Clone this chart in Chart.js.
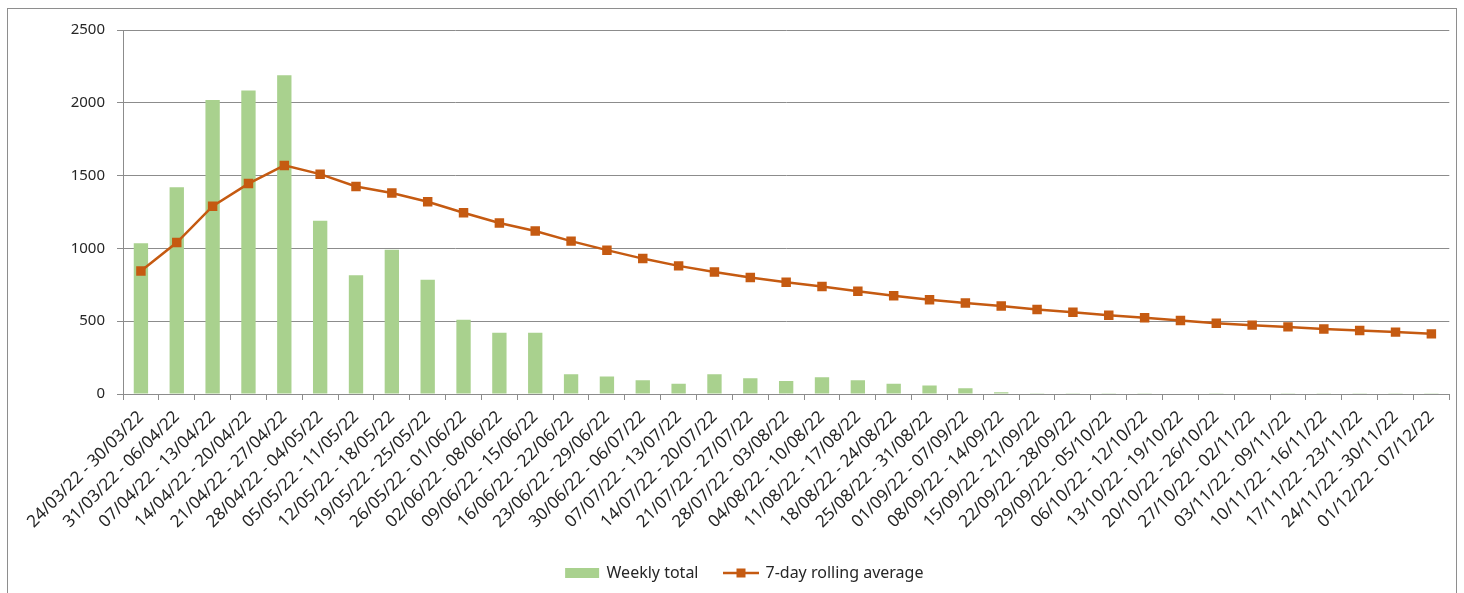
<!DOCTYPE html>
<html>
<head>
<meta charset="utf-8">
<script src="https://cdn.jsdelivr.net/npm/chart.js@4.4.1/dist/chart.umd.min.js"></script>
<style>
    html, body { margin: 0; padding: 0; background: #fff; overflow: hidden; }
    #frame { position: absolute; left: 7px; top: 8px; width: 1448px; height: 600px; border: 1px solid #8e8e8e; }
    #wrap { position: absolute; left: 0; top: 0; width: 1448px; height: 584px; }
</style>
</head>
<body>
<div id="frame"><div id="wrap"><canvas id="chart"></canvas></div></div>
<script>
// week ranges (x categories)
const weeks = [
    '24/03/22 - 30/03/22', '31/03/22 - 06/04/22', '07/04/22 - 13/04/22', '14/04/22 - 20/04/22',
    '21/04/22 - 27/04/22', '28/04/22 - 04/05/22', '05/05/22 - 11/05/22', '12/05/22 - 18/05/22',
    '19/05/22 - 25/05/22', '26/05/22 - 01/06/22', '02/06/22 - 08/06/22', '09/06/22 - 15/06/22',
    '16/06/22 - 22/06/22', '23/06/22 - 29/06/22', '30/06/22 - 06/07/22', '07/07/22 - 13/07/22',
    '14/07/22 - 20/07/22', '21/07/22 - 27/07/22', '28/07/22 - 03/08/22', '04/08/22 - 10/08/22',
    '11/08/22 - 17/08/22', '18/08/22 - 24/08/22', '25/08/22 - 31/08/22', '01/09/22 - 07/09/22',
    '08/09/22 - 14/09/22', '15/09/22 - 21/09/22', '22/09/22 - 28/09/22', '29/09/22 - 05/10/22',
    '06/10/22 - 12/10/22', '13/10/22 - 19/10/22', '20/10/22 - 26/10/22', '27/10/22 - 02/11/22',
    '03/11/22 - 09/11/22', '10/11/22 - 16/11/22', '17/11/22 - 23/11/22', '24/11/22 - 30/11/22',
    '01/12/22 - 07/12/22'
];

const weeklyTotal = [
    1035, 1420, 2020, 2085, 2190, 1190, 815, 990, 785, 510, 420, 420,
    135, 120, 95, 70, 135, 108, 90, 115, 95, 70, 58, 40,
    12, 5, 5, 5, 5, 0, 5, 0, 5, 5, 5, 5, 5
];

const rollingAvg = [
    845, 1040, 1290, 1445, 1570, 1510, 1425, 1380, 1320, 1245, 1175, 1120,
    1050, 988, 930, 880, 838, 800, 768, 738, 706, 675, 647, 625,
    605, 580, 562, 541, 523, 505, 486, 473, 461, 447, 436, 425, 413
];

const yMin = 0;
const yMax = 2500;
const yStep = 500;

const green = '#a9d18e';
const orange = '#c55a11';
const gridGrey = '#8c8c8c';
const textCol = '#262626';
const fontFamily = "'Noto Sans', 'Liberation Sans', sans-serif";

// little legend icons (box for bars, line with square for the average)
function makeIcon(draw) {
    let c = document.createElement('canvas');
    c.width = 36;
    c.height = 14;
    draw(c.getContext('2d'));
    return c;
}
const barIcon = makeIcon(ctx => {
    ctx.fillStyle = green;
    ctx.fillRect(1, 2, 34, 10);
});
const lineIcon = makeIcon(ctx => {
    ctx.strokeStyle = orange;
    ctx.lineWidth = 2.5;
    ctx.beginPath();
    ctx.moveTo(0, 7);
    ctx.lineTo(36, 7);
    ctx.stroke();
    ctx.fillStyle = orange;
    ctx.fillRect(13.5, 2.5, 9, 9);
});

var ctx = document.getElementById('chart').getContext('2d');
var mychart = new Chart(ctx, {
    type: 'bar',
    data: {
        labels: weeks,
        datasets: [{
            type: 'bar',
            label: 'Weekly total',
            data: weeklyTotal,
            backgroundColor: green,
            barPercentage: 0.4,
            categoryPercentage: 1,
            order: 1
        }, {
            type: 'line',
            label: '7-day rolling average',
            data: rollingAvg,
            borderColor: orange,
            borderWidth: 2.5,
            pointStyle: 'rect',
            pointRadius: 6.7,
            pointBackgroundColor: orange,
            pointBorderColor: orange,
            pointBorderWidth: 0,
            tension: 0,
            order: 0
        }]
    },
    options: {
        responsive: true,
        maintainAspectRatio: false,
        animation: false,
        // left padding + y axis width = 115, the extra left padding nudges the legend right
        layout: { padding: { top: 20, left: 28, right: 3, bottom: 2 } },
        scales: {
            x: {
                grid: {
                    offset: true,
                    drawOnChartArea: false,
                    drawTicks: true,
                    tickLength: 6,
                    color: gridGrey
                },
                border: { color: gridGrey },
                ticks: {
                    autoSkip: false,
                    maxRotation: 45,
                    minRotation: 45,
                    padding: 7,
                    color: textCol,
                    font: { family: fontFamily, size: 17 }
                },
                // legend is 16 + 26 + 10 high, so this keeps the plot bottom at the same spot
                afterFit: scale => { scale.height = 145; }
            },
            y: {
                min: yMin,
                max: yMax,
                grid: {
                    color: gridGrey,
                    tickLength: 6
                },
                border: { color: gridGrey },
                ticks: {
                    stepSize: yStep,
                    padding: 12,
                    color: textCol,
                    font: { family: fontFamily, size: 15 },
                    callback: v => String(v)
                },
                afterFit: scale => { scale.width = 87; }
            }
        },
        plugins: {
            tooltip: { enabled: false },
            legend: {
                position: 'bottom',
                labels: {
                    usePointStyle: true,
                    pointStyleWidth: 33,
                    padding: 26,
                    color: textCol,
                    font: { family: fontFamily, size: 16 },
                    generateLabels: function (chart) {
                        let items = Chart.defaults.plugins.legend.labels.generateLabels(chart);
                        items.forEach(it => {
                            it.pointStyle = it.datasetIndex === 0 ? barIcon : lineIcon;
                        });
                        return items;
                    },
                    sort: (a, b) => a.datasetIndex - b.datasetIndex
                }
            }
        }
    }
});
</script>
</body>
</html>
